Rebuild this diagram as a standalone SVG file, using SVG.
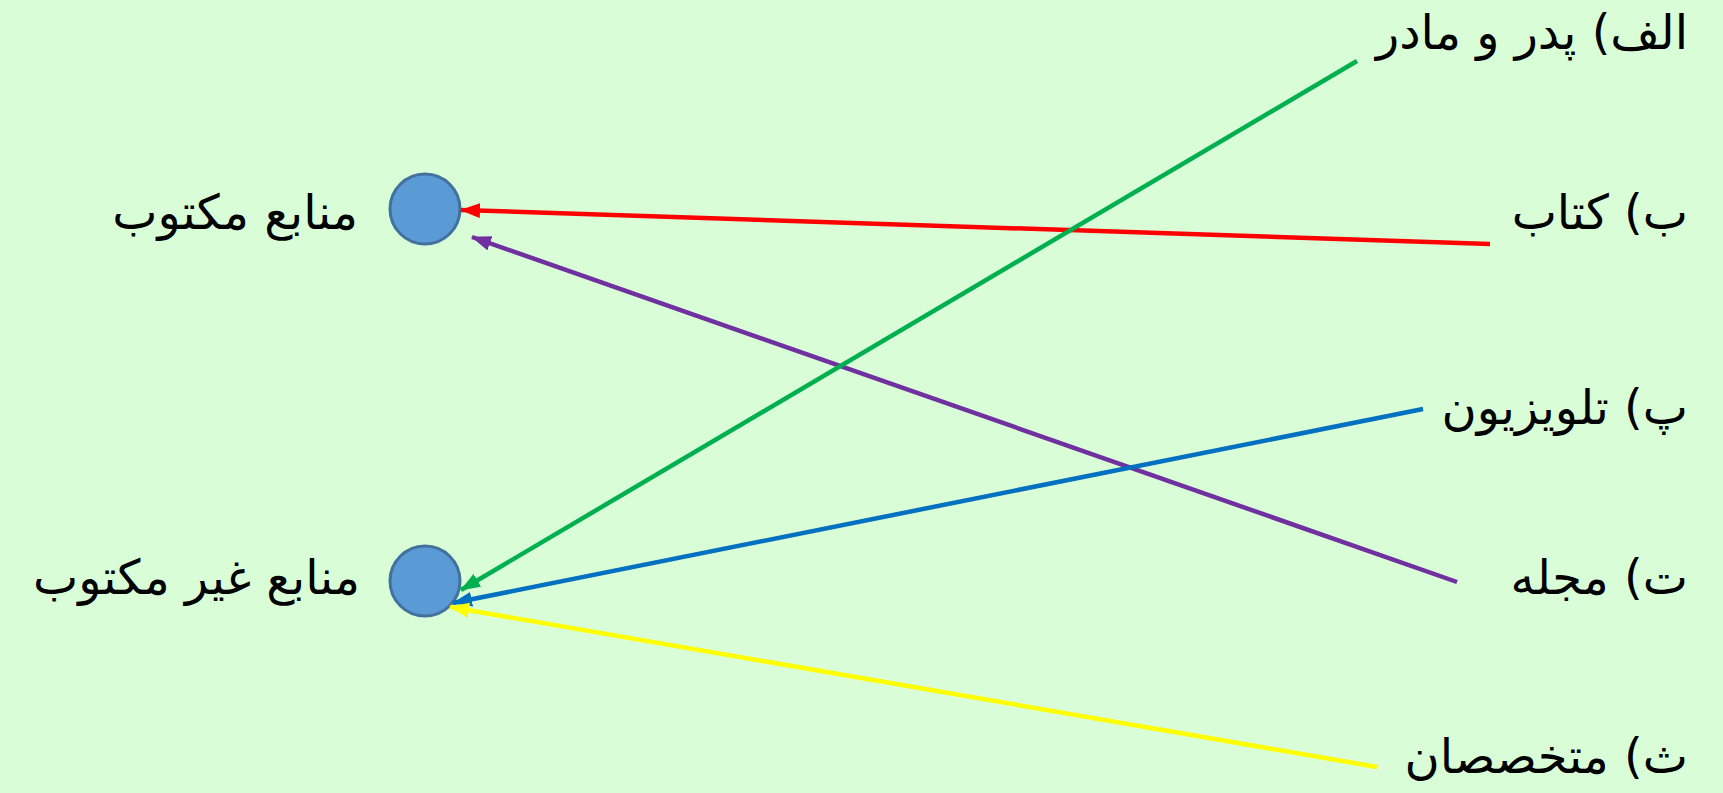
<svg xmlns="http://www.w3.org/2000/svg" width="1723" height="793" viewBox="0 0 1723 793">
<style>
.lbl{font-family:"DejaVu Sans","Noto Sans",sans-serif;font-size:48px;fill:#000;direction:rtl;unicode-bidi:embed}
.node{fill:#5B9BD5;stroke:#41719C;stroke-width:3}
.c{stroke-width:4.5;fill:none}
</style>
<defs>
<marker id="aR" viewBox="0 0 20 15" refX="19" refY="7.5" markerWidth="20" markerHeight="15" markerUnits="userSpaceOnUse" orient="auto"><path d="M0,0 L20,7.5 L0,15 Z" fill="#FF0000"/></marker>
<marker id="aP" viewBox="0 0 20 15" refX="19" refY="7.5" markerWidth="20" markerHeight="15" markerUnits="userSpaceOnUse" orient="auto"><path d="M0,0 L20,7.5 L0,15 Z" fill="#7030A0"/></marker>
<marker id="aG" viewBox="0 0 20 15" refX="19" refY="7.5" markerWidth="20" markerHeight="15" markerUnits="userSpaceOnUse" orient="auto"><path d="M0,0 L20,7.5 L0,15 Z" fill="#00B050"/></marker>
<marker id="aB" viewBox="0 0 20 15" refX="19" refY="7.5" markerWidth="20" markerHeight="15" markerUnits="userSpaceOnUse" orient="auto"><path d="M0,0 L20,7.5 L0,15 Z" fill="#0070C0"/></marker>
<marker id="aY" viewBox="0 0 20 15" refX="19" refY="7.5" markerWidth="20" markerHeight="15" markerUnits="userSpaceOnUse" orient="auto"><path d="M0,0 L20,7.5 L0,15 Z" fill="#FFFF00"/></marker>
</defs>
<rect width="1723" height="793" fill="#D9FED7"/>
<g id="n-written"><circle class="node" cx="425" cy="209" r="35"/><text class="lbl" x="358" y="229">منابع مکتوب</text></g>
<g id="n-unwritten"><circle class="node" cx="425" cy="581" r="35"/><text class="lbl" x="360" y="594">منابع غیر مکتوب</text></g>
<g id="s-parents"><text class="lbl" x="1688" y="49">الف) پدر و مادر</text></g>
<g id="s-book"><text class="lbl" x="1688" y="229">ب) کتاب</text></g>
<g id="s-tv"><text class="lbl" x="1688" y="424">پ) تلویزیون</text></g>
<g id="s-mag"><text class="lbl" x="1688" y="594">ت) مجله</text></g>
<g id="s-expert"><text class="lbl" x="1688" y="773">ث) متخصصان</text></g>
<g id="connectors">
<line class="c" stroke="#FF0000" x1="1490" y1="244" x2="461" y2="210" marker-end="url(#aR)"/>
<line class="c" stroke="#7030A0" x1="1457" y1="582" x2="472" y2="237" marker-end="url(#aP)"/>
<line class="c" stroke="#00B050" x1="1357" y1="61" x2="461" y2="590" marker-end="url(#aG)"/>
<line class="c" stroke="#0070C0" x1="1423" y1="409" x2="453" y2="603" marker-end="url(#aB)"/>
<line class="c" stroke="#FFFF00" x1="1377" y1="767" x2="450" y2="607" marker-end="url(#aY)"/>
</g>
</svg>
